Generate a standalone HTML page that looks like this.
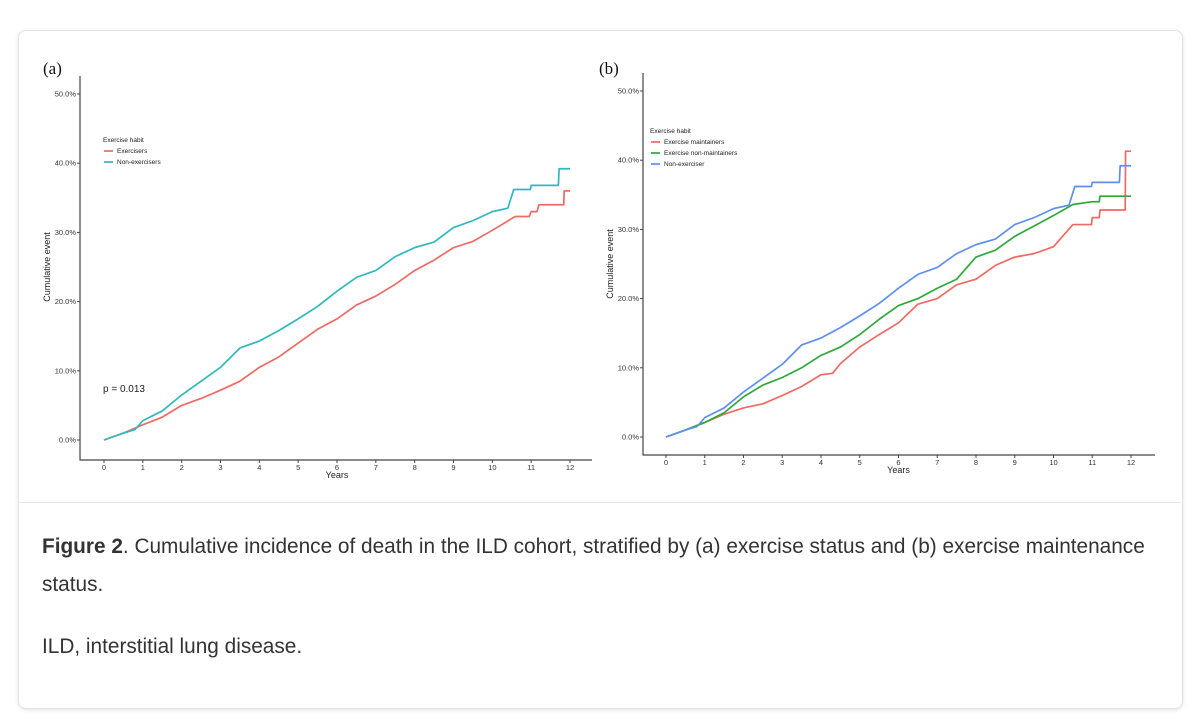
<!DOCTYPE html>
<html><head><meta charset="utf-8"><style>
body{margin:0;width:1200px;height:728px;background:#fff;font-family:"Liberation Sans",sans-serif;position:relative;overflow:hidden}
#card{position:absolute;left:18px;top:30px;width:1163px;height:677px;border:1px solid #e4e4e4;border-radius:8px;box-shadow:0 1px 4px rgba(0,0,0,.12);background:#fff}
#sep{position:absolute;left:19px;top:502px;width:1162px;height:1px;background:#e8e8e8}
.cap{position:absolute;left:42px;font-size:20.8px;color:#333;white-space:nowrap}
svg{position:absolute;left:0;top:0}
</style></head><body>
<div id="card"></div>
<div id="sep"></div>
<svg id="chart" width="1200" height="500"></svg>
<div class="cap" style="top:535px"><b>Figure 2</b>. Cumulative incidence of death in the ILD cohort, stratified by (a) exercise status and (b) exercise maintenance</div>
<div class="cap" style="top:573px">status.</div>
<div class="cap" style="top:635px">ILD, interstitial lung disease.</div>
<script>
const yTicks=[0,10,20,30,40,50];
const xTicks=[0,1,2,3,4,5,6,7,8,9,10,11,12];
const aExT=[0,0.5,1,1.5,2,2.5,3,3.5,4,4.5,5,5.5,6,6.5,7,7.5,8,8.5,9,9.5,10,10.5,10.6,10.95,11,11.15,11.2,11.84,11.85,12];
const aExV=[0,1,2.2,3.3,5,6,7.2,8.5,10.5,12,14,16,17.5,19.5,20.8,22.5,24.5,26,27.8,28.7,30.3,32,32.3,32.3,33,33,34,34,36,36];
const nonT=[0,0.5,0.8,1,1.5,2,2.5,3,3.5,4,4.5,5,5.5,6,6.5,7,7.5,8,8.5,9,9.5,10,10.4,10.55,10.98,11,11.7,11.72,12];
const nonV=[0,1,1.5,2.8,4.2,6.5,8.5,10.5,13.3,14.3,15.8,17.5,19.3,21.5,23.5,24.5,26.5,27.8,28.6,30.7,31.7,33,33.5,36.2,36.2,36.8,36.8,39.2,39.2];
const mT=[0,0.5,1,1.5,2,2.5,3,3.5,4,4.3,4.5,5,5.5,6,6.5,7,7.5,8,8.5,9,9.5,10,10.5,10.98,11,11.18,11.2,11.85,11.86,12];
const mV=[0,1,2.1,3.3,4.2,4.8,6,7.3,9,9.2,10.6,13,14.8,16.5,19.2,20,22,22.8,24.8,26,26.5,27.5,30.7,30.7,31.7,31.7,32.8,32.8,41.3,41.3];
const nmT=[0,0.5,1,1.5,2,2.5,3,3.5,4,4.5,5,5.5,6,6.5,7,7.5,8,8.5,9,9.5,10,10.5,11,11.18,11.2,12];
const nmV=[0,1,2.1,3.5,5.8,7.5,8.6,10,11.8,13,14.8,17,19,20,21.5,22.8,26,27,29,30.5,32,33.6,34,34,34.8,34.8];
const NS="http://www.w3.org/2000/svg";
const svg=document.getElementById('chart');
function mk(tag,at,parent,txt){const e=document.createElementNS(NS,tag);for(const k in at)e.setAttribute(k,at[k]);if(txt!==undefined)e.textContent=txt;(parent||svg).appendChild(e);return e;}
function panel(P){
  const g=mk('g',{});
  
  
  const X=t=>P.x0+(P.x12-P.x0)*t/12, Y=v=>P.y0-(P.y0-P.y50)*v/50;
  const lab=mk('text',{x:P.lx,y:74,'font-family':'Liberation Serif,serif','font-size':17,fill:'#111'},g,'('+P.id+')');
  
  
  const ax=mk('path',{d:`M${P.ax},${P.top}V${P.ab}H${P.ar}`,stroke:'#444',fill:'none','stroke-width':1.2},g);
  
  
  yTicks.forEach(v=>{mk('line',{x1:P.ax-3,x2:P.ax,y1:Y(v),y2:Y(v),stroke:'#444'},g);
    const t=mk('text',{x:P.ax-4,y:Y(v)+2.5,'text-anchor':'end','font-size':7.5,fill:'#333'},g,v.toFixed(1)+'%');
    
    });
  xTicks.forEach(v=>{mk('line',{x1:X(v),x2:X(v),y1:P.ab,y2:P.ab+3,stroke:'#444'},g);
    const t=mk('text',{x:X(v),y:P.ab+10,'text-anchor':'middle','font-size':7.5,fill:'#333'},g,v);
    
    });
  const xt=mk('text',{x:(P.x0+P.x12)/2,y:P.ab+18,'text-anchor':'middle','font-size':9,fill:'#222'},g,'Years');
  
  
  const yt=mk('text',{x:0,y:0,transform:`translate(${P.ytx},${(P.y0+P.y50)/2}) rotate(-90)`,'text-anchor':'middle','font-size':9,fill:'#222'},g,'Cumulative event');
  
  
  P.series.forEach(s=>{
    let d=`M${X(s.t[0])},${Y(s.v[0])}`;
    for(let i=1;i<s.t.length;i++){d+=`L${X(s.t[i])},${Y(s.v[i])}`;}
    const p=mk('path',{d,stroke:s.c,fill:'none','stroke-width':1.7,'stroke-linejoin':'round'},g);
    
    
  });
  const lt=mk('text',{x:P.lgx,y:P.lgy,'font-size':6.5,fill:'#222'},g,'Exercise habit');
  
  
  P.series.forEach((s,i)=>{
    const yy=P.lgy+11+i*11;
    mk('line',{x1:P.lgx+1,x2:P.lgx+10,y1:yy-2,y2:yy-2,stroke:s.c,'stroke-width':1.7},g);
    const t=mk('text',{x:P.lgx+14,y:yy,'font-size':6.5,fill:'#222'},g,s.name);
    
    
  });
  return g;
}
panel({id:'a',lx:43,x0:104,x12:570,y0:440,y50:94,ax:80,top:76,ab:460,ar:592,ytx:50,lgx:103,lgy:142,
  series:[{key:'exercisers',name:'Exercisers',c:'#EE6A62',t:aExT,v:aExV},{key:'non-exercisers',name:'Non-exercisers',c:'#2FB8BE',t:nonT,v:nonV}]});
panel({id:'b',lx:599,x0:666,x12:1131,y0:437,y50:91,ax:643,top:73,ab:455,ar:1155,ytx:613,lgx:650,lgy:133,
  series:[{key:'maintainers',name:'Exercise maintainers',c:'#EE6A62',t:mT,v:mV},{key:'non-maintainers',name:'Exercise non-maintainers',c:'#2FA83A',t:nmT,v:nmV},{key:'non-exerciser',name:'Non-exerciser',c:'#5E8FEF',t:nonT,v:nonV}]});
const pv=mk('text',{x:103,y:392,'font-size':10,fill:'#222'},svg,'p = 0.013');


</script>
</body></html>
